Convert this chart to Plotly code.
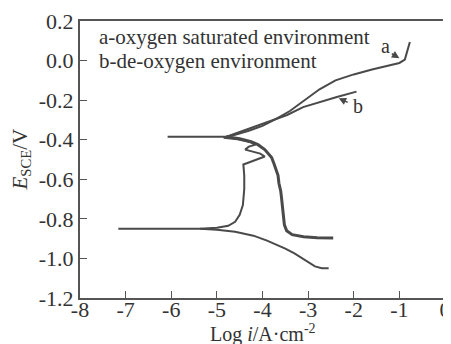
import plotly.graph_objects as go

# Curve a: oxygen saturated environment (log i, E)
a_x = [-6.08, -5.5, -5.0, -4.79, -4.6, -4.3, -4.0, -3.7, -3.4, -3.1, -2.75, -2.4, -2.0, -1.6,
       -1.27, -1.0, -0.88, -0.83, -0.8, -0.77]
a_y = [-0.385, -0.385, -0.386, -0.385, -0.375, -0.355, -0.33, -0.295, -0.255, -0.205, -0.145,
       -0.10, -0.07, -0.045, -0.028, -0.012, 0.005, 0.04, 0.07, 0.094]
a_cat_x = [-4.79, -4.5, -4.25, -4.1, -3.95, -3.87, -3.8, -3.75, -3.7, -3.66, -3.64, -3.6, -3.58,
           -3.56, -3.55, -3.52, -3.47, -3.35, -3.1, -2.8, -2.45]
a_cat_y = [-0.385, -0.395, -0.41, -0.425, -0.45, -0.47, -0.49, -0.52, -0.55, -0.58, -0.62, -0.66,
           -0.70, -0.75, -0.79, -0.83, -0.86, -0.88, -0.89, -0.895, -0.897]

# Curve b: de-oxygen environment
b_x = [-7.16, -6.5, -6.0, -5.37, -5.0, -4.75, -4.6, -4.5, -4.43, -4.4, -4.4, -4.42, -4.3, -4.1,
       -3.95, -4.05, -4.25, -4.38, -4.3, -4.15, -4.3, -4.55, -4.85, -4.56, -4.21, -3.84, -3.46,
       -3.11, -2.74, -2.37, -1.94]
b_y = [-0.85, -0.85, -0.851, -0.85, -0.845, -0.835, -0.815, -0.78, -0.73, -0.65, -0.58, -0.525,
       -0.515, -0.50, -0.485, -0.47, -0.46, -0.45, -0.435, -0.425, -0.41, -0.398, -0.39, -0.366,
       -0.34, -0.31, -0.275, -0.235, -0.209, -0.184, -0.157]
b_cat_x = [-5.37, -5.0, -4.6, -4.2, -3.9, -3.5, -3.3, -3.05, -2.85, -2.7, -2.55]
b_cat_y = [-0.85, -0.855, -0.865, -0.885, -0.91, -0.95, -0.975, -1.01, -1.04, -1.05, -1.05]

x_ticks = [-8, -7, -6, -5, -4, -3, -2, -1, 0]
x_ticktext = ["-8", "-7", "-6", "-5", "-4", "-3", "-2", "-1", "0"]
y_ticks = [-1.2, -1.0, -0.8, -0.6, -0.4, -0.2, 0.0, 0.2]
y_ticktext = ["-1.2", "-1.0", "-0.8", "-0.6", "-0.4", "-0.2", "0.0", "0.2"]

line_col = "#4a4a4a"
fam = "Liberation Serif, Times New Roman, serif"
font = dict(family=fam, size=20, color="#333333")
big_font = dict(family=fam, size=21, color="#333333")
tick_font = dict(family=fam, size=22, color="#333333")

fig = go.Figure()
for xs, ys, w in [(a_x, a_y, 2), (a_cat_x, a_cat_y, 3), (b_x, b_y, 2), (b_cat_x, b_cat_y, 2)]:
    fig.add_trace(go.Scatter(x=xs, y=ys, mode="lines", line=dict(color=line_col, width=w),
                             showlegend=False, hoverinfo="skip"))

fig.update_xaxes(range=[-8, 0], tickvals=x_ticks, ticktext=x_ticktext, ticks="inside",
                 ticklen=7, tickcolor="#555", showline=True, linecolor="#555", linewidth=2,
                 mirror=True, showgrid=False, zeroline=False, tickfont=tick_font,
                 automargin=False, ticklabelstandoff=-9)
fig.update_yaxes(range=[-1.2, 0.2], tickvals=y_ticks, ticktext=y_ticktext, ticks="inside",
                 ticklen=7, tickcolor="#555", showline=True, linecolor="#555", linewidth=2,
                 mirror=True, showgrid=False, zeroline=False, tickfont=tick_font,
                 automargin=False)

# axis titles
fig.add_annotation(x=0.5, y=0, xref="paper", yref="paper", yshift=-35, yanchor="middle",
                   text="Log <i>i</i>/A·cm<sup>-2</sup>", showarrow=False, font=font)
fig.add_annotation(x=0, y=0.5, xref="paper", yref="paper", xshift=-60, xanchor="center",
                   yanchor="middle", textangle=-90,
                   text="<i>E</i><sub>SCE</sub>/V", showarrow=False, font=big_font)

fig.add_annotation(x=-7.62, y=0.118, xref="x", yref="y", text="a-oxygen saturated environment",
                   showarrow=False, xanchor="left", font=big_font)
fig.add_annotation(x=-7.62, y=0.0, xref="x", yref="y", text="b-de-oxygen environment",
                   showarrow=False, xanchor="left", font=big_font)
fig.add_annotation(x=-1.3, y=0.075, text="a", showarrow=False, font=font)
fig.add_annotation(x=-1.0, y=0.012, ax=-1.2, ay=0.04, axref="x", ayref="y", text="",
                   showarrow=True, arrowhead=2, arrowsize=1, arrowwidth=1.5, arrowcolor=line_col)
fig.add_annotation(x=-1.9, y=-0.23, text="b", showarrow=False, font=font)
fig.add_annotation(x=-2.33, y=-0.19, ax=-2.1, ay=-0.215, axref="x", ayref="y", text="",
                   showarrow=True, arrowhead=2, arrowsize=1, arrowwidth=1.5, arrowcolor=line_col)

# the page body adds an 8px margin, so the figure is sized to fit the 451x344 window
fig.update_layout(width=443, height=336, margin=dict(l=72, r=6, t=13, b=46),
                  paper_bgcolor="white", plot_bgcolor="white", font=font)

fig.write_html("out.html")
